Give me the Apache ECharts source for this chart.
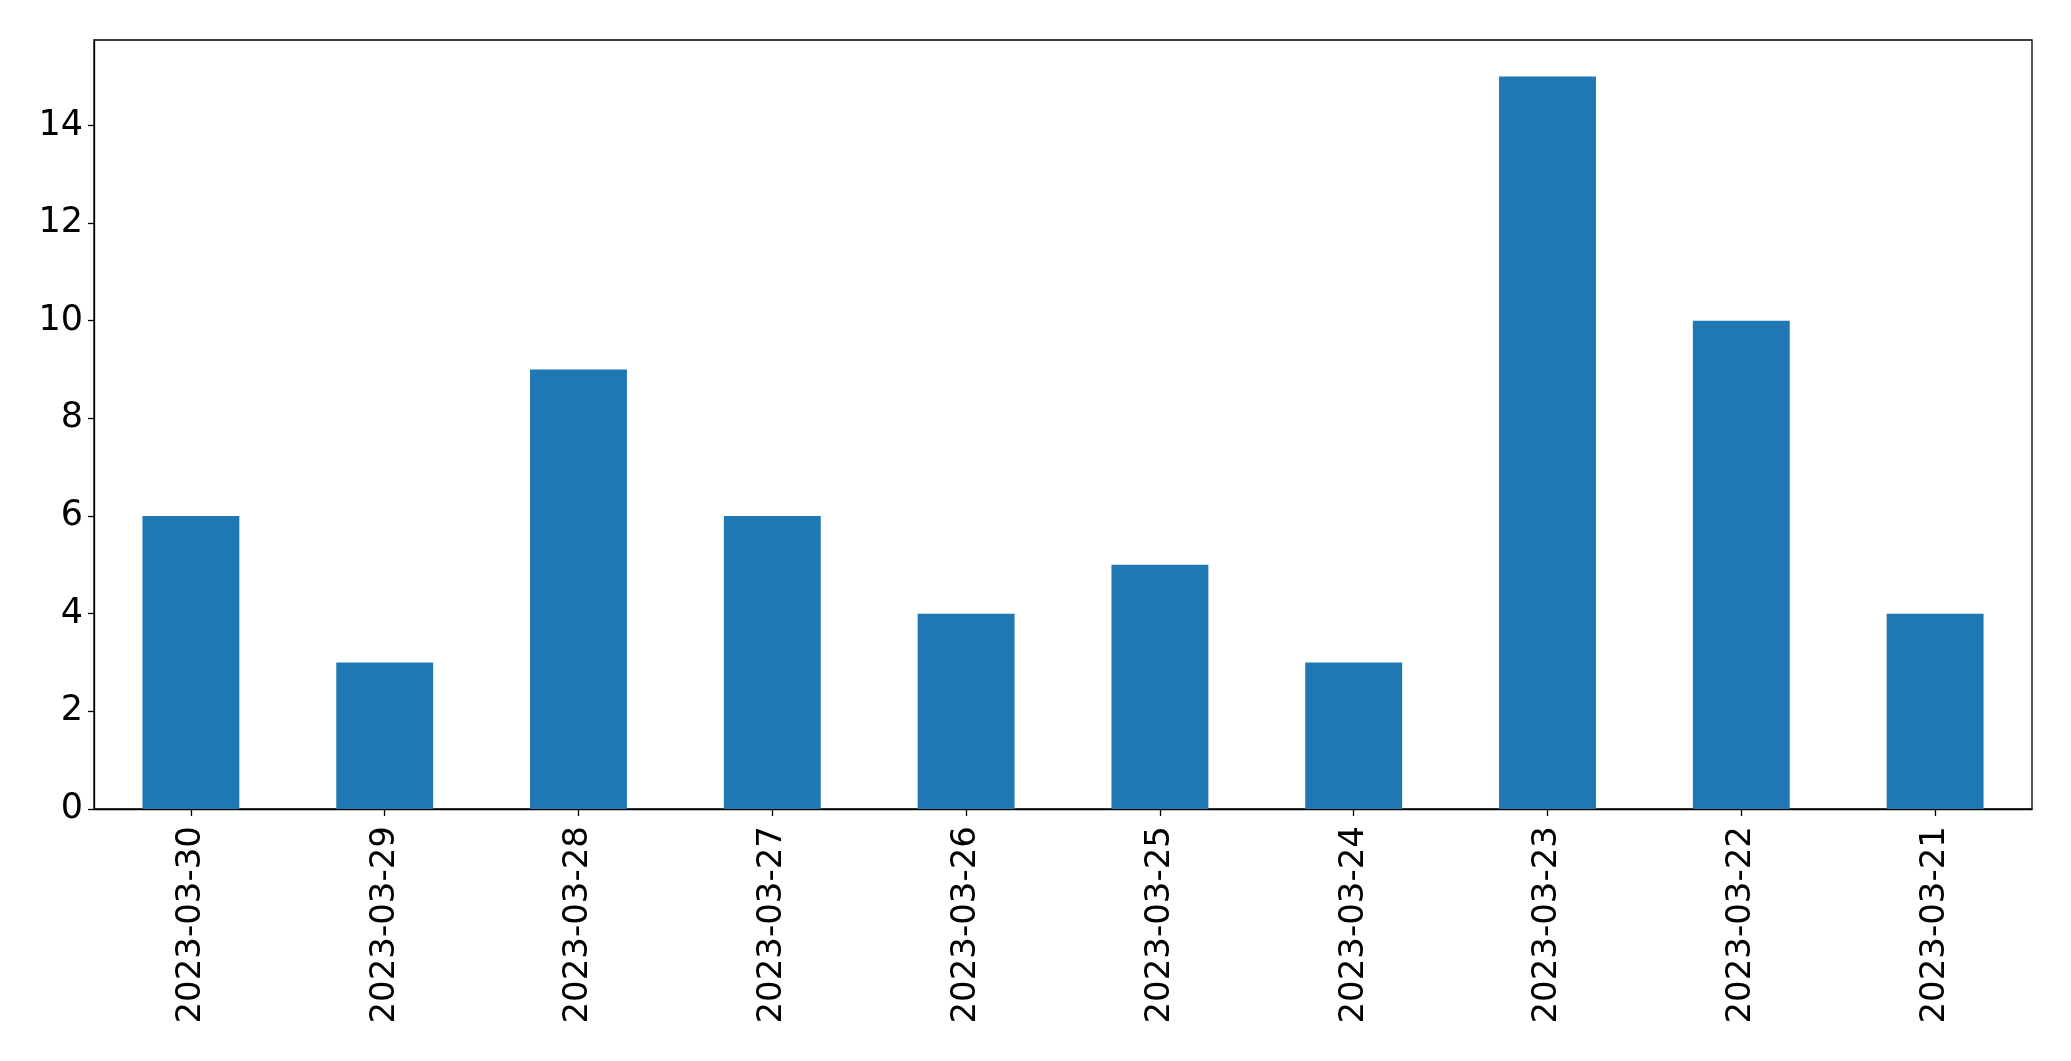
<!DOCTYPE html>
<html><head><meta charset="utf-8">
<script src="https://cdn.jsdelivr.net/npm/echarts@6/dist/echarts.min.js"></script>
<style>html,body{margin:0;padding:0;background:#fff}#c{width:2071px;height:1061px}</style>
</head><body><div id="c"></div>
<script>
const categories = ['2023-03-30','2023-03-29','2023-03-28','2023-03-27','2023-03-26','2023-03-25','2023-03-24','2023-03-23','2023-03-22','2023-03-21'];
const values = [6,3,9,6,4,5,3,15,10,4];
const yTicks = [0,2,4,6,8,10,12,14];
const yMax = 15.75;

const chart = echarts.init(document.getElementById('c'));
chart.setOption({
  animation: false,
  backgroundColor: '#fff',
  grid: {left: 94, right: 39, top: 40, bottom: 252, show: true, borderColor: '#000', borderWidth: 1.3, containLabel: false},
  xAxis: {
    type: 'category', data: categories,
    axisLine: {show: true, lineStyle: {color: '#000', width: 1.3}},
    axisTick: {show: true, alignWithLabel: true, length: 7, lineStyle: {color: '#000', width: 1.3}},
    axisLabel: {rotate: 90, margin: 17, color: '#000', fontSize: 34, fontFamily: 'DejaVu Sans', interval: 0}
  },
  yAxis: {
    type: 'value', min: 0, max: yMax, interval: 2,
    splitLine: {show: false},
    axisLine: {show: true, lineStyle: {color: '#000', width: 1.3}},
    axisTick: {show: true, length: 6, customValues: yTicks, lineStyle: {color: '#000', width: 1.3}},
    axisLabel: {margin: 11, color: '#000', fontSize: 35, fontFamily: 'DejaVu Sans', customValues: yTicks}
  },
  series: [{type: 'bar', data: values, barWidth: '50%', itemStyle: {color: '#1f77b4'}}]
});
</script></body></html>
